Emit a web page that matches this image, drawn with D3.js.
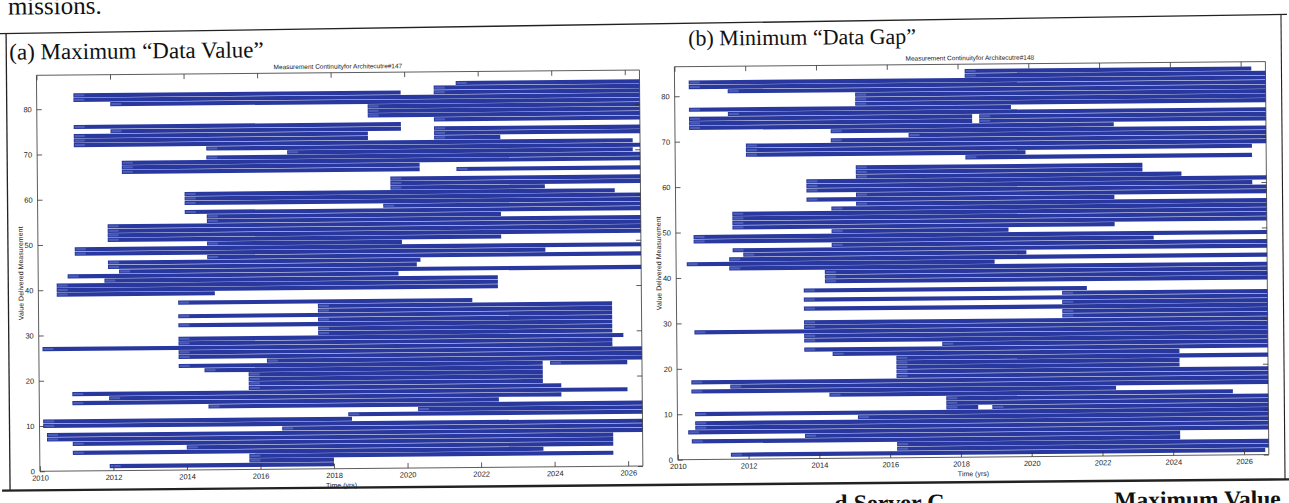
<!DOCTYPE html>
<html>
<head>
<meta charset="utf-8">
<script src="https://cdn.jsdelivr.net/npm/d3@7"></script>
<style>
  html, body { margin: 0; padding: 0; background: #fff; }
  svg { display: block; }
</style>
</head>
<body>
<svg id="fig" width="1289" height="503"></svg>
<script>
// Axis ticks shared by both continuity plots
const yearTicks = [2010, 2012, 2014, 2016, 2018, 2020, 2022, 2024, 2026];
const valueTicks = [0, 10, 20, 30, 40, 50, 60, 70, 80];

// Measurement continuity, architecture #147: [measurement row, start year, end year]
const continuity147 = [
  [85, 2021.4, 2026.4],
  [84, 2020.8, 2026.4],
  [83, 2011.0, 2019.9], [83, 2020.8, 2026.4],
  [82, 2011.0, 2026.4],
  [81, 2012.0, 2026.4],
  [80, 2019.0, 2026.4],
  [79, 2019.0, 2026.4],
  [78, 2019.0, 2026.4],
  [77, 2020.8, 2026.4],
  [76, 2011.0, 2019.9],
  [75, 2012.0, 2019.9], [75, 2020.8, 2026.4],
  [74, 2011.0, 2019.0], [74, 2020.8, 2026.4],
  [73, 2011.0, 2019.0], [73, 2020.8, 2022.6],
  [72, 2011.0, 2026.2],
  [71, 2014.6, 2026.4],
  [70, 2016.8, 2026.2],
  [69, 2014.6, 2026.4],
  [68, 2012.3, 2026.4],
  [67, 2012.3, 2020.4],
  [66, 2012.3, 2020.4], [66, 2021.4, 2026.4],
  [64, 2019.6, 2026.4],
  [63, 2019.6, 2026.4],
  [62, 2019.6, 2023.8],
  [61, 2014.0, 2025.7],
  [60, 2014.0, 2026.4],
  [59, 2014.0, 2026.4],
  [58, 2019.4, 2026.4],
  [57, 2014.0, 2026.4],
  [56, 2014.6, 2022.6],
  [55, 2014.6, 2026.4],
  [54, 2011.9, 2026.4],
  [53, 2011.9, 2026.4],
  [52, 2011.9, 2026.4],
  [51, 2011.9, 2022.6],
  [50, 2014.6, 2019.9],
  [49, 2011.0, 2026.4],
  [48, 2011.0, 2023.8],
  [47, 2014.6, 2026.4],
  [46, 2011.9, 2020.4],
  [45, 2011.9, 2020.3],
  [44, 2012.2, 2026.4],
  [43, 2010.8, 2019.8],
  [42, 2011.8, 2022.5],
  [41, 2010.5, 2022.5],
  [40, 2010.5, 2022.5],
  [39, 2010.5, 2014.8],
  [37, 2013.8, 2021.8],
  [36, 2017.6, 2025.6],
  [35, 2017.6, 2025.6],
  [34, 2013.8, 2025.6],
  [33, 2017.6, 2025.6],
  [32, 2013.8, 2025.6],
  [31, 2017.6, 2025.6],
  [30, 2017.6, 2025.6],
  [29, 2013.8, 2025.9],
  [28, 2013.8, 2025.6],
  [27, 2010.1, 2025.6],
  [26, 2013.8, 2026.4],
  [25, 2013.8, 2026.4],
  [24, 2016.2, 2026.4],
  [23, 2013.8, 2023.7], [23, 2023.9, 2026.0],
  [22, 2014.5, 2023.7],
  [21, 2015.7, 2023.7],
  [20, 2015.7, 2023.7],
  [19, 2015.7, 2023.7],
  [18, 2015.7, 2024.2],
  [17, 2010.9, 2026.0],
  [16, 2011.9, 2024.2],
  [15, 2010.9, 2022.5],
  [14, 2014.6, 2026.4],
  [13, 2020.3, 2026.4],
  [12, 2018.4, 2026.4],
  [11, 2010.1, 2018.5],
  [10, 2010.1, 2026.4],
  [9, 2016.6, 2026.4],
  [8, 2010.2, 2026.4],
  [7, 2010.2, 2025.6],
  [6, 2010.9, 2025.6],
  [5, 2014.0, 2025.6],
  [4, 2010.9, 2023.7],
  [3, 2015.7, 2025.6],
  [2, 2015.7, 2018.0],
  [1, 2011.9, 2018.0]
];

// Measurement continuity, architecture #148: [measurement row, start year, end year]
const continuity148 = [
  [85, 2018.2, 2026.3],
  [84, 2018.2, 2026.7],
  [83, 2010.4, 2026.7],
  [82, 2010.4, 2026.7],
  [81, 2011.5, 2026.7],
  [80, 2015.1, 2026.7],
  [79, 2015.1, 2026.7],
  [78, 2015.1, 2026.7],
  [77, 2010.4, 2019.5],
  [76, 2011.5, 2026.7],
  [75, 2010.4, 2018.4], [75, 2018.6, 2026.7],
  [74, 2010.4, 2018.4], [74, 2018.6, 2026.7],
  [73, 2010.4, 2022.4],
  [72, 2014.4, 2026.7],
  [71, 2016.6, 2026.7],
  [70, 2014.4, 2026.7],
  [69, 2012.0, 2026.7],
  [68, 2012.0, 2026.3],
  [67, 2012.0, 2019.9],
  [66, 2018.2, 2026.3],
  [64, 2015.1, 2023.2],
  [63, 2015.1, 2023.2],
  [62, 2015.1, 2024.3],
  [61, 2013.7, 2026.7],
  [60, 2013.7, 2026.3],
  [59, 2013.7, 2026.7],
  [58, 2015.1, 2026.7],
  [57, 2013.7, 2022.4],
  [56, 2015.1, 2026.7],
  [55, 2014.4, 2026.7],
  [54, 2011.6, 2026.7],
  [53, 2011.6, 2026.7],
  [52, 2011.6, 2026.7],
  [51, 2011.6, 2022.4],
  [50, 2014.4, 2019.4],
  [49, 2010.5, 2026.7],
  [48, 2010.5, 2023.5],
  [47, 2014.4, 2026.7],
  [46, 2011.6, 2026.7],
  [45, 2011.9, 2019.9],
  [44, 2011.5, 2026.7],
  [43, 2010.3, 2019.0],
  [42, 2011.5, 2026.7],
  [41, 2014.2, 2026.7],
  [40, 2014.2, 2026.7],
  [39, 2014.2, 2026.7],
  [37, 2013.6, 2021.6],
  [36, 2020.9, 2026.7],
  [35, 2013.6, 2026.7],
  [34, 2020.9, 2026.7],
  [33, 2013.6, 2026.7],
  [32, 2020.9, 2026.7],
  [31, 2020.9, 2026.7],
  [30, 2013.6, 2026.7],
  [29, 2013.6, 2026.7],
  [28, 2010.5, 2026.7],
  [27, 2013.6, 2026.7],
  [26, 2013.6, 2026.7],
  [25, 2017.5, 2026.7],
  [24, 2013.6, 2026.7],
  [23, 2014.4, 2024.2],
  [22, 2016.2, 2026.7],
  [21, 2016.2, 2024.2],
  [20, 2016.2, 2024.2],
  [19, 2016.2, 2026.7],
  [18, 2016.2, 2026.7],
  [17, 2010.4, 2026.7],
  [16, 2011.5, 2026.7],
  [15, 2010.4, 2022.4],
  [14, 2014.3, 2025.7],
  [13, 2017.6, 2026.7],
  [12, 2017.6, 2026.7],
  [11, 2017.6, 2018.5], [11, 2018.9, 2026.7],
  [10, 2010.5, 2026.7],
  [9, 2015.1, 2026.7],
  [8, 2010.5, 2026.7],
  [7, 2010.5, 2026.7],
  [6, 2010.3, 2026.7],
  [5, 2013.6, 2024.2],
  [4, 2010.4, 2024.2],
  [3, 2016.2, 2026.7],
  [2, 2016.2, 2026.7],
  [1, 2011.5, 2026.6]
];

// Layout of the two sub-figures on the page
const panels = [
  {
    caption: '(a) Maximum \u201CData Value\u201D', captionX: 11, captionY: 54, captionSize: 23,
    title: 'Measurement Continuityfor Architecutre#147',
    data: continuity147, xDomain: [2010, 2026.4], yDomain: [0, 87.5],
    left: 38, right: 641, top: 70, bottom: 466
  },
  {
    caption: '(b) Minimum \u201CData Gap\u201D', captionX: 690, captionY: 46, captionSize: 22,
    title: 'Measurement Continuityfor Architecutre#148',
    data: continuity148, xDomain: [2010, 2026.7], yDomain: [0, 86.5],
    left: 676, right: 1267, top: 67, bottom: 460
  }
];

const BAR = '#28389e';
const LABEL = '#8da0ea';
const AXIS_FONT = 'Liberation Sans, Arial, sans-serif';
const SERIF = 'Liberation Serif, Times New Roman, serif';

const svg = d3.select('#fig');
svg.append('rect').attr('width', 1289).attr('height', 503).attr('fill', '#fff');

// whole page sits slightly tilted, as on the printed sheet
const page = svg.append('g').attr('transform', 'rotate(-0.5 645 250)');

// running text of the surrounding page
page.append('text').attr('x', 10).attr('y', 9)
  .attr('font-family', SERIF).attr('font-size', 25).attr('fill', '#111')
  .text('missions.');
page.append('text').attr('x', 832).attr('y', 513)
  .attr('font-family', SERIF).attr('font-size', 24).attr('font-weight', 'bold').attr('fill', '#111')
  .text('d Server C');
page.append('text').attr('x', 1112).attr('y', 512)
  .attr('font-family', SERIF).attr('font-size', 23.5).attr('font-weight', 'bold').attr('fill', '#111')
  .text('Maximum Value');

// figure box
const box = page.append('g').attr('stroke', '#222').attr('fill', 'none');
box.append('line').attr('x1', 0).attr('x2', 1289).attr('y1', 28).attr('y2', 20).attr('stroke-width', 1.3);
box.append('line').attr('x1', 8).attr('x2', 8).attr('y1', 28).attr('y2', 485).attr('stroke-width', 1.3);
box.append('line').attr('x1', 1283).attr('x2', 1283).attr('y1', 20).attr('y2', 485).attr('stroke-width', 1.1);
box.append('line').attr('x1', 0).attr('x2', 1289).attr('y1', 485).attr('y2', 485).attr('stroke-width', 2.4);

function drawPanel(p) {
  const x = d3.scaleLinear().domain(p.xDomain).range([p.left, p.right]);
  const y = d3.scaleLinear().domain(p.yDomain).range([p.bottom, p.top]);
  const rowH = y(0) - y(1);
  const g = page.append('g');

  g.append('text').attr('x', p.captionX).attr('y', p.captionY)
    .attr('font-family', SERIF).attr('font-size', p.captionSize).attr('fill', '#111')
    .text(p.caption);

  g.append('text').attr('x', (p.left + p.right) / 2).attr('y', p.top - 4)
    .attr('text-anchor', 'middle').attr('font-family', AXIS_FONT)
    .attr('font-size', 6.5).attr('fill', '#222').text(p.title);

  // continuity bars, one row per measurement
  g.append('g').selectAll('rect').data(p.data).join('rect')
    .attr('x', d => x(d[1]))
    .attr('width', d => x(d[2]) - x(d[1]))
    .attr('y', d => y(d[0] + 0.5) + 0.2)
    .attr('height', rowH - 0.4)
    .attr('fill', BAR);

  // mission name tags at the start of each bar
  g.append('g').selectAll('rect').data(p.data).join('rect')
    .attr('x', d => x(d[1]) + 1)
    .attr('width', d => Math.min(10, x(d[2]) - x(d[1]) - 2))
    .attr('y', d => y(d[0] + 0.5) + 1.2)
    .attr('height', rowH - 2.4)
    .attr('fill', LABEL).attr('opacity', 0.35);

  // plot box
  g.append('rect').attr('x', p.left).attr('y', p.top)
    .attr('width', p.right - p.left).attr('height', p.bottom - p.top)
    .attr('fill', 'none').attr('stroke', '#333').attr('stroke-width', 0.8);

  const fmt = d3.format('d');
  const styleAxis = sel => {
    sel.select('.domain').remove();
    sel.selectAll('line').attr('stroke', '#333').attr('stroke-width', 0.8);
    sel.selectAll('text').attr('font-family', AXIS_FONT).attr('font-size', 7.5).attr('fill', '#222');
  };

  g.append('g').attr('transform', `translate(0,${p.bottom})`)
    .call(d3.axisBottom(x).tickValues(yearTicks).tickFormat(fmt).tickSize(-5).tickPadding(4))
    .call(styleAxis);
  g.append('g').attr('transform', `translate(0,${p.top})`)
    .call(d3.axisTop(x).tickValues(yearTicks).tickFormat('').tickSize(-5))
    .call(styleAxis);
  g.append('g').attr('transform', `translate(${p.left},0)`)
    .call(d3.axisLeft(y).tickValues(valueTicks).tickFormat(fmt).tickSize(-5).tickPadding(5))
    .call(styleAxis);
  g.append('g').attr('transform', `translate(${p.right},0)`)
    .call(d3.axisRight(y).tickValues(valueTicks).tickFormat('').tickSize(-5))
    .call(styleAxis);

  g.append('text').attr('x', (p.left + p.right) / 2).attr('y', p.bottom + 19)
    .attr('text-anchor', 'middle').attr('font-family', AXIS_FONT)
    .attr('font-size', 7).attr('fill', '#222').text('Time (yrs)');

  g.append('text')
    .attr('transform', `translate(${p.left - 15},${(p.top + p.bottom) / 2}) rotate(-90)`)
    .attr('text-anchor', 'middle').attr('font-family', AXIS_FONT)
    .attr('font-size', 7).attr('fill', '#222').text('Value Delivered Measurement');
}

panels.forEach(drawPanel);
</script>
</body>
</html>
